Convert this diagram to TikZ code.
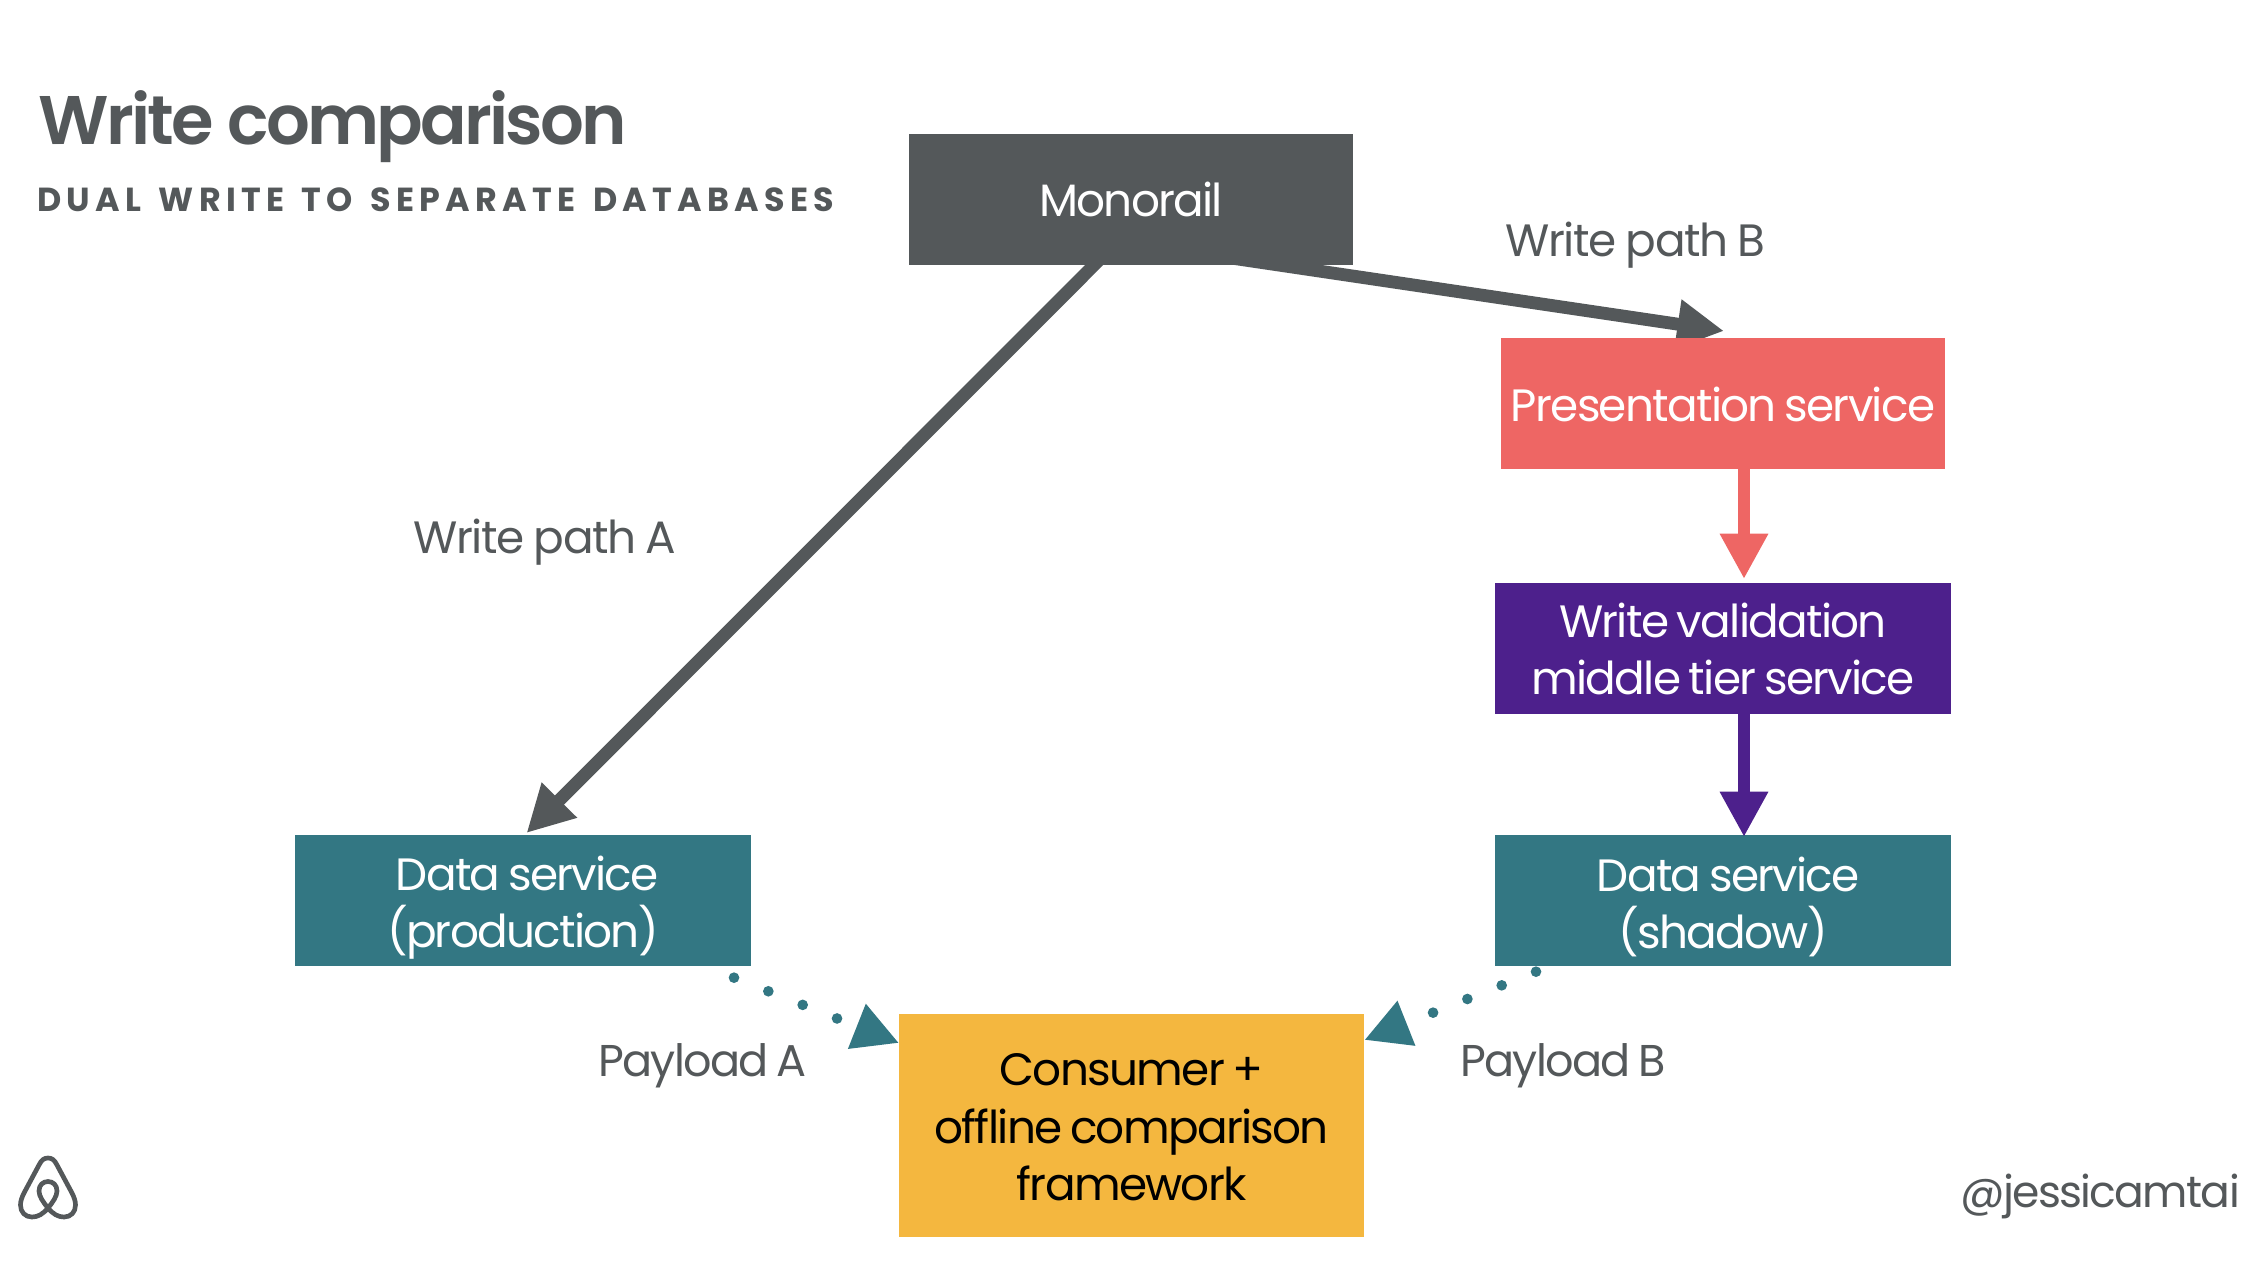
\documentclass[tikz,border=0pt]{standalone}
\usepackage{fontspec}
\usetikzlibrary{arrows.meta,calc,backgrounds}
\setmainfont{Poppins}[LetterSpace=-3.8,WordSpace=0.75]
\newfontfamily\pathfont{Poppins}[LetterSpace=-3.2,WordSpace=0.9]
\newfontfamily\titlefont{Poppins}[LetterSpace=-4,BoldFont={Poppins SemiBold}]
\newfontfamily\subfont{Poppins}[LetterSpace=16,WordSpace=1.4]
\definecolor{slate}{HTML}{54585A}
\definecolor{coral}{HTML}{EE6664}
\definecolor{violet}{HTML}{4D208C}
\definecolor{teal2}{HTML}{337783}
\definecolor{amber}{HTML}{F4B73F}
\tikzset{
  x=0.75pt,y=-0.75pt,
  box/.style={inner sep=0pt,outer sep=0pt,align=center,text=white,font=\fontsize{34}{43}\selectfont,anchor=north west},
  lab/.style={inner sep=0pt,text=slate,font=\fontsize{34}{43}\selectfont,anchor=base west},
  flow/.style={line width=8.6pt,-{Triangle[length=34pt,width=34pt]}},
  graypath/.style={slate,line width=9.6pt,-{Triangle[length=35pt,width=35pt]}},
  dots/.style={teal2,line width=8pt,line cap=round,dash pattern=on 0pt off 27.7pt,-{Triangle[length=34pt,width=34pt]}}
}
\begin{document}
\begin{tikzpicture}
\useasboundingbox (0,0) rectangle (2258,1260);
\node[box,fill=slate,minimum width=333pt,minimum height=98pt] (mono) at (909,134) {Monorail};
\node[box,fill=coral,minimum width=333pt,minimum height=98pt] (pres) at (1501,338) {\rule{0pt}{28pt}Presentation service};
\node[box,fill=violet,minimum width=342pt,minimum height=98pt] (valid) at (1495,583) {\rule{0pt}{27pt}Write validation\\middle tier service};
\node[box,fill=teal2,minimum width=342pt,minimum height=98pt] (shadow) at (1495,835) {\rule{0pt}{36pt}\hspace{8pt}Data service\\(shadow)};
\node[box,fill=teal2,minimum width=342pt,minimum height=98pt] (prod) at (295,835) {\rule{0pt}{37pt}\hspace{6.5pt}Data service\\(production)};
\node[box,fill=amber,text=black,minimum width=349pt,minimum height=167pt] (cons) at (899,1014) {\rule{0pt}{27pt}Consumer +\\offline comparison\\framework};
\node[lab,anchor=base west,font=\titlefont\bfseries\fontsize{51.6}{60}\selectfont] (title) at (38,144) {Write comparison};
\node[lab,font=\subfont\bfseries\fontsize{25}{30}\selectfont] (subtitle) at (37,211) {DUAL WRITE TO SEPARATE DATABASES};
\node[lab,font=\pathfont\fontsize{34}{43}\selectfont] (pathA) at (413,553) {Write path A};
\node[lab,font=\pathfont\fontsize{34}{43}\selectfont] (pathB) at (1505,256) {Write path B};
\node[lab,font=\fontsize{33.4}{43}\selectfont] (payA) at (598,1076) {Payload A};
\node[lab,font=\fontsize{33.4}{43}\selectfont] (payB) at (1460,1076) {Payload B};
\node[lab,font=\fontsize{33}{43}\selectfont] (handle) at (1960,1207) {@jessicamtai};
\coordinate (tipA) at ($(prod.north)+(3.5,-2)$);
\coordinate (tipB) at ($(pres.north)+(1,-7)$);
\coordinate (tipC) at ($(cons.north west)+(0,29)$);
\coordinate (tipD) at ($(cons.north east)+(0,26)$);
\coordinate (startA) at ($(mono.south west)+(193,-7.5)$);
\coordinate (startB) at ($(mono.south west)+(303,-9.5)$);
\coordinate (startC) at ($(prod.south east)+(-17,12)$);
\coordinate (startD) at ($(shadow.south west)+(41,6)$);
\coordinate (redS) at ($(pres.south west)+(243,0)$);
\coordinate (redE) at ($(valid.north west)+(249,-4)$);
\coordinate (purS) at ($(valid.south west)+(249,0)$);
\coordinate (purE) at ($(shadow.north west)+(249,2)$);
\begin{scope}[on background layer]
\fill[white] (0,0) rectangle (2258,1260);
\draw[graypath] (startA) -- (tipA);
\draw[graypath] (startB) -- (tipB);
\end{scope}
\draw[flow,coral] (redS) -- (redE);
\draw[flow,violet] (purS) -- (purE);
\draw[dots] (startC) -- (tipC);
\draw[dots] (startD) -- (tipD);
\draw[slate,line width=3.5pt,line join=round]
  (48,1208) .. controls (53,1214) and (58,1217) .. (64,1217)
  .. controls (71,1217) and (75.5,1212) .. (75.5,1205)
  .. controls (75.5,1201) and (74,1197) .. (72,1193)
  -- (57,1165) .. controls (54.5,1160) and (52,1158) .. (48,1158)
  .. controls (44,1158) and (41.5,1160) .. (39,1165)
  -- (24,1193) .. controls (22,1197) and (20.5,1201) .. (20.5,1205)
  .. controls (20.5,1212) and (25,1217) .. (32,1217)
  .. controls (38,1217) and (43,1214) .. (48,1208)
  .. controls (53,1202) and (57,1196) .. (57,1191)
  .. controls (57,1185) and (53,1181.5) .. (48,1181.5)
  .. controls (43,1181.5) and (39,1185) .. (39,1191)
  .. controls (39,1196) and (43,1202) .. (48,1208);
\end{tikzpicture}
\end{document}
